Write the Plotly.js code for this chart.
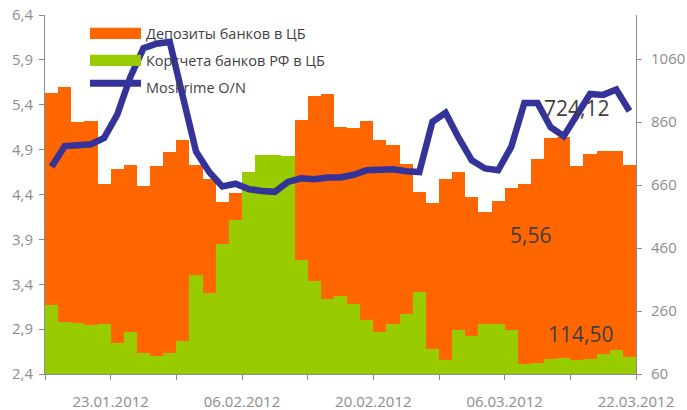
<!DOCTYPE html>
<html>
<head>
<meta charset="utf-8">
<script src="https://cdn.plot.ly/plotly-3.0.1.min.js"></script>
<style>
  html, body { margin: 0; padding: 0; background: #fff; }
  #chart { width: 687px; height: 410px; }
</style>
</head>
<body>
<div id="chart"></div>
<script>
(function () {
  'use strict';

  /* business days, 18.01.2012 - 22.03.2012 */
  const days = [
    '18.01', '19.01', '20.01', '23.01', '24.01', '25.01', '26.01', '27.01',
    '30.01', '31.01', '01.02', '02.02', '03.02', '06.02', '07.02', '08.02',
    '09.02', '10.02', '13.02', '14.02', '15.02', '16.02', '17.02', '20.02',
    '21.02', '22.02', '24.02', '27.02', '28.02', '29.02', '01.03', '02.03',
    '05.03', '06.03', '07.03', '11.03', '12.03', '13.03', '14.03', '15.03',
    '16.03', '19.03', '20.03', '21.03', '22.03'
  ];

  /* Депозиты банков в ЦБ, млрд руб. (right axis) */
  const deposits = [
    953, 972, 861, 863, 662, 710, 724, 657, 721, 765,
    803, 724, 680, 606, 635, 600, 610, 620, 640, 866,
    942, 949, 845, 840, 863, 803, 787, 726, 637, 603,
    679, 701, 621, 575, 609, 651, 664, 742, 808, 812,
    721, 758, 769, 769, 724.12
  ];

  /* Корсчета банков РФ в ЦБ, млрд руб. (right axis) */
  const accounts = [
    278, 224, 221, 215, 218, 158, 192, 126, 117, 126,
    164, 373, 316, 473, 548, 702, 755, 755, 753, 421,
    355, 297, 307, 281, 231, 192, 218, 250, 320, 138,
    104, 199, 180, 218, 218, 199, 91, 94, 107, 110,
    104, 107, 123, 135, 114.5
  ];

  /* MosPrime O/N, % (left axis) */
  const mosprime = [
    4.71, 4.94, 4.95, 4.96, 5.03, 5.29, 5.71, 6.03, 6.08, 6.10,
    5.49, 4.88, 4.65, 4.49, 4.52, 4.46, 4.44, 4.43, 4.54, 4.58,
    4.57, 4.59, 4.59, 4.62, 4.67, 4.68, 4.68, 4.66, 4.65, 5.21,
    5.31, 5.03, 4.78, 4.69, 4.67, 4.93, 5.42, 5.42, 5.15, 5.05,
    5.30, 5.52, 5.51, 5.57, 5.33
  ];

  const tickLabels = ['23.01.2012', '06.02.2012', '20.02.2012', '06.03.2012', '22.03.2012'];

  const seriesNames = ['Депозиты банков в ЦБ', 'Корсчета банков РФ в ЦБ', 'MosPrime O/N'];
  const valueLabels = ['724,12', '5,56', '114,50'];

  const ORANGE = '#ff6600';
  const GREEN = '#99cc00';
  const BLUE = '#333399';
  const AXIS = '#8c8c8c';
  const TEXT = '#3f3f3f';
  const FONT = '"Open Sans", "Noto Sans", sans-serif';

  const xIdx = days.map((d, i) => i);

  /* x ticks sit on the bar boundaries every 5 days, labels on every other one */
  const tickVals = [];
  const tickText = [];
  for (let k = 0; k <= 9; k++) {
    tickVals.push(-0.5 + 5 * k);
    tickText.push(k % 2 === 1 ? tickLabels[(k - 1) / 2] : '');
  }

  const traces = [
    {
      x: xIdx, y: deposits, type: 'bar', name: seriesNames[0],
      marker: { color: ORANGE, line: { width: 0 } },
      width: 1, yaxis: 'y', text: days, hoverinfo: 'text+y', textposition: 'none'
    },
    {
      x: xIdx, y: accounts, type: 'bar', name: seriesNames[1],
      marker: { color: GREEN, line: { width: 0 } },
      width: 1, yaxis: 'y', text: days, hoverinfo: 'text+y', textposition: 'none'
    },
    {
      x: xIdx, y: mosprime, type: 'scatter', mode: 'lines', name: seriesNames[2],
      line: { color: BLUE, width: 6.5 },
      yaxis: 'y2', text: days, hoverinfo: 'text+y'
    }
  ];

  /* hand-drawn legend, wide swatches like the original */
  const legendShapes = [
    { type: 'rect', xref: 'paper', yref: 'paper', x0: 0.0761, x1: 0.1624, y0: 0.933, y1: 0.9647,
      fillcolor: ORANGE, line: { width: 0 } },
    { type: 'rect', xref: 'paper', yref: 'paper', x0: 0.0761, x1: 0.1624, y0: 0.858, y1: 0.889,
      fillcolor: GREEN, line: { width: 0 } },
    { type: 'line', xref: 'paper', yref: 'paper', x0: 0.0761, x1: 0.1624, y0: 0.8096, y1: 0.8096,
      line: { color: BLUE, width: 7 } }
  ];

  const legendText = [0.9484, 0.8735, 0.7985].map((yy, i) => ({
    xref: 'paper', yref: 'paper', x: 0.1675, y: yy, xanchor: 'left', yanchor: 'middle',
    text: seriesNames[i], showarrow: false, font: { family: FONT, size: 14.5, color: TEXT }
  }));

  const valueNotes = [
    { x: 40.0, y: 904, text: valueLabels[0] },
    { x: 36.5, y: 500, text: valueLabels[1] },
    { x: 40.3, y: 188, text: valueLabels[2] }
  ].map(a => ({
    x: a.x, y: a.y, xref: 'x', yref: 'y', text: a.text, showarrow: false,
    xanchor: 'center', yanchor: 'middle', font: { family: FONT, size: 21, color: TEXT }
  }));

  const layout = {
    width: 687, height: 410,
    paper_bgcolor: '#ffffff', plot_bgcolor: '#ffffff',
    margin: { l: 45, r: 51, t: 15, b: 36 },
    font: { family: FONT, size: 15, color: AXIS },
    separators: ', ',
    showlegend: false,
    barmode: 'overlay',
    bargap: 0,
    xaxis: {
      range: [-0.5, 44.5], showgrid: false, zeroline: false,
      showline: true, linecolor: AXIS, linewidth: 1,
      tickmode: 'array', tickvals: tickVals, ticktext: tickText,
      ticks: 'outside', ticklen: 5, tickcolor: AXIS,
      ticklabelstandoff: 9,
      tickfont: { family: FONT, size: 15, color: AXIS }
    },
    yaxis: {
      side: 'right', range: [60, 1200], tick0: 60, dtick: 200,
      showgrid: false, zeroline: false,
      showline: true, linecolor: AXIS, linewidth: 1,
      ticks: 'outside', ticklen: 5, tickcolor: AXIS,
      ticklabelstandoff: 6,
      tickfont: { family: FONT, size: 15, color: AXIS }
    },
    yaxis2: {
      overlaying: 'y', side: 'left', range: [2.4, 6.4], tick0: 2.4, dtick: 0.5,
      tickformat: '.1f', showgrid: false, zeroline: false,
      showline: true, linecolor: AXIS, linewidth: 1,
      ticks: 'outside', ticklen: 5, tickcolor: AXIS,
      ticklabelstandoff: 3,
      tickfont: { family: FONT, size: 15, color: AXIS }
    },
    shapes: legendShapes,
    annotations: legendText.concat(valueNotes)
  };

  Plotly.newPlot('chart', traces, layout, { displayModeBar: false, staticPlot: true });
})();
</script>
</body>
</html>
